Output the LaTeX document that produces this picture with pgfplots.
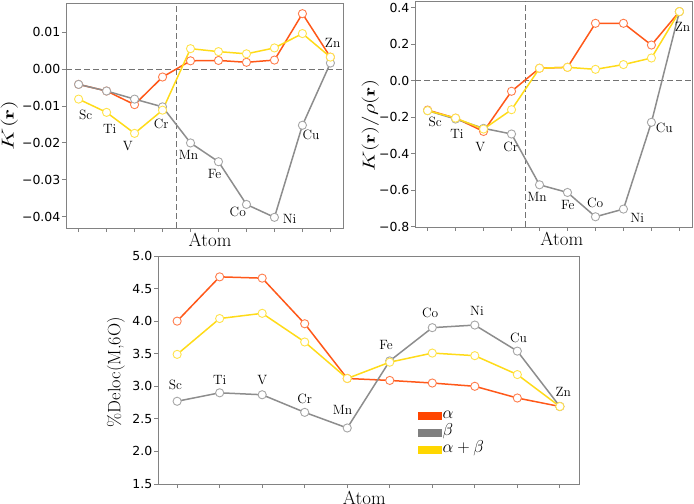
\documentclass[border=0pt]{standalone}
\usepackage{graphicx}
\usepackage{pgfplots}
\pgfplotsset{compat=1.18}
\usepackage{fontspec}
\setsansfont{DejaVu Sans}

\definecolor{cA}{RGB}{255,69,0}
\definecolor{cB}{RGB}{128,128,128}
\definecolor{cAB}{RGB}{255,215,0}
\definecolor{spine}{RGB}{130,130,130}

\tikzset{lab/.style={font=\fontsize{13.5}{15}\selectfont, inner sep=0pt}}
\pgfplotsset{
  atomaxis/.style={
    scale only axis,
    xmin=-0.45, xmax=9.45,
    xtick={0,...,9}, xticklabels={},
    tick align=outside, tick pos=left,
    major tick length=4bp,
    axis line style={spine, line width=0.9bp},
    tick style={spine, line width=0.9bp},
    yticklabel style={font=\sffamily\fontsize{12.5}{14}\selectfont, text=black, inner sep=1.5bp},
    xlabel={Atom},
    xlabel style={font=\fontsize{19}{21}\selectfont, anchor=north, inner sep=1bp},
    ylabel style={anchor=south, inner sep=0pt},
    clip=false,
  },
  ser/.style={color=#1!90!white, line width=1.5bp, mark=*, mark size=4.1bp,
    mark options={fill=white, draw=#1!70!white, line width=0.9bp}, forget plot},
  ref/.style={color=black!55, line width=1.2bp, dash pattern=on 6bp off 3bp, forget plot},
}

\begin{document}
\begin{tikzpicture}
\useasboundingbox (0,0) rectangle (694bp,-504bp);

% ---------- K(r) ----------
\begin{axis}[atomaxis,
  at={(66bp,-3bp)}, anchor=north west,
  width=277bp, height=225bp,
  ymin=-0.0431, ymax=0.018,
  ytick={-0.04,-0.03,-0.02,-0.01,0,0.01},
  yticklabels={−0.04,−0.03,−0.02,−0.01,0.00,0.01},
  xlabel style={at={(rel axis cs:0.52,0)}, yshift=-4bp},
  ylabel={\scalebox{1.43}[1]{$K(\mathbf{r})$}},
  ylabel style={font=\fontsize{16}{18}\selectfont, at={(rel axis cs:-0.173,0.456)}},
]
\addplot[ref] coordinates {(-0.45,0) (9.45,0)};
\addplot[ref] coordinates {(3.5,-0.0431) (3.5,0.018)};
\addplot[ser=cA] coordinates {(0,-0.0041)(1,-0.0059)(2,-0.0096)(3,-0.0021)(4,0.0023)(5,0.0024)(6,0.0019)(7,0.0025)(8,0.0151)(9,0.0033)};
\addplot[ser=cB] coordinates {(0,-0.0041)(1,-0.0059)(2,-0.0081)(3,-0.0102)(4,-0.0200)(5,-0.0251)(6,-0.0367)(7,-0.0402)(8,-0.0152)(9,0.0017)};
\addplot[ser=cAB] coordinates {(0,-0.0081)(1,-0.0117)(2,-0.0174)(3,-0.0111)(4,0.0056)(5,0.0048)(6,0.0042)(7,0.0058)(8,0.0097)(9,0.0033)};
\node[lab] at (axis cs:0.25,-0.0125) {Sc};
\node[lab] at (axis cs:1.11,-0.0161) {Ti};
\node[lab] at (axis cs:1.76,-0.0208) {V};
\node[lab] at (axis cs:2.95,-0.0149) {Cr};
\node[lab] at (axis cs:3.93,-0.0233) {Mn};
\node[lab] at (axis cs:4.86,-0.0283) {Fe};
\node[lab] at (axis cs:5.69,-0.0387) {Co};
\node[lab] at (axis cs:7.54,-0.0405) {Ni};
\node[lab] at (axis cs:8.31,-0.0179) {Cu};
\node[lab] at (axis cs:9.08,0.0071) {Zn};
\end{axis}

% ---------- K(r)/rho(r) ----------
\begin{axis}[atomaxis,
  at={(415bp,-1bp)}, anchor=north west,
  width=277bp, height=226bp,
  ymin=-0.801, ymax=0.436,
  ytick={-0.8,-0.6,-0.4,-0.2,0,0.2,0.4},
  yticklabels={−0.8,−0.6,−0.4,−0.2,0.0,0.2,0.4},
  xlabel style={at={(rel axis cs:0.53,0)}, yshift=-4bp},
  ylabel={\scalebox{1.31}[1]{$K(\mathbf{r})/\rho(\mathbf{r})$}},
  ylabel style={font=\fontsize{16}{18}\selectfont, at={(rel axis cs:-0.130,0.449)}},
]
\addplot[ref] coordinates {(-0.45,0) (9.45,0)};
\addplot[ref] coordinates {(3.5,-0.801) (3.5,0.436)};
\addplot[ser=cA] coordinates {(0,-0.161)(1,-0.205)(2,-0.278)(3,-0.058)(4,0.068)(5,0.073)(6,0.314)(7,0.314)(8,0.195)(9,0.378)};
\addplot[ser=cB] coordinates {(0,-0.164)(1,-0.210)(2,-0.261)(3,-0.292)(4,-0.570)(5,-0.612)(6,-0.745)(7,-0.703)(8,-0.228)(9,0.378)};
\addplot[ser=cAB] coordinates {(0,-0.164)(1,-0.205)(2,-0.265)(3,-0.159)(4,0.068)(5,0.073)(6,0.062)(7,0.088)(8,0.124)(9,0.378)};
\node[lab] at (axis cs:0.27,-0.228) {Sc};
\node[lab] at (axis cs:1.05,-0.292) {Ti};
\node[lab] at (axis cs:1.88,-0.365) {V};
\node[lab] at (axis cs:2.97,-0.365) {Cr};
\node[lab] at (axis cs:3.91,-0.639) {Mn};
\node[lab] at (axis cs:5.01,-0.679) {Fe};
\node[lab] at (axis cs:5.99,-0.670) {Co};
\node[lab] at (axis cs:7.49,-0.749) {Ni};
\node[lab] at (axis cs:8.46,-0.259) {Cu};
\node[lab] at (axis cs:9.11,0.296) {Zn};
\end{axis}

% ---------- %Deloc(M,6O) ----------
\begin{axis}[atomaxis,
  at={(158bp,-256bp)}, anchor=north west,
  width=421bp, height=228bp,
  ymin=1.5, ymax=5.0,
  ytick={1.5,2.0,...,5.0},
  yticklabels={1.5,2.0,2.5,3.0,3.5,4.0,4.5,5.0},
  xlabel style={at={(rel axis cs:0.49,0)}, yshift=-6bp},
  ylabel={\scalebox{1.02}[1]{\%Deloc(M,6O)}},
  ylabel style={font=\fontsize{18}{20}\selectfont, at={(rel axis cs:-0.078,0.49)}},
  legend style={at={(rel axis cs:0.6176,0.335)}, anchor=north west, draw=none, fill=none,
    inner sep=0pt, row sep=1bp, font=\fontsize{17.5}{19}\selectfont,
    nodes={inner sep=1bp, text height=10bp, text depth=4bp}},
  legend cell align=left,
]
\addlegendimage{legend image code/.code={\fill[cA] (0bp,-3.5bp) rectangle (23bp,3.5bp);}}
\addlegendentry{$\alpha$}
\addlegendimage{legend image code/.code={\fill[cB] (0bp,-3.5bp) rectangle (23bp,3.5bp);}}
\addlegendentry{$\beta$}
\addlegendimage{legend image code/.code={\fill[cAB] (0bp,-3.5bp) rectangle (23bp,3.5bp);}}
\addlegendentry{$\alpha+\beta$}
\addplot[ser=cA] coordinates {(0,4.00)(1,4.68)(2,4.66)(3,3.96)(4,3.12)(5,3.09)(6,3.05)(7,3.00)(8,2.82)(9,2.69)};
\addplot[ser=cB] coordinates {(0,2.77)(1,2.90)(2,2.87)(3,2.60)(4,2.36)(5,3.39)(6,3.90)(7,3.94)(8,3.54)(9,2.69)};
\addplot[ser=cAB] coordinates {(0,3.49)(1,4.04)(2,4.12)(3,3.68)(4,3.12)(5,3.37)(6,3.51)(7,3.47)(8,3.18)(9,2.69)};
\node[lab] at (axis cs:-0.04,3.02) {Sc};
\node[lab] at (axis cs:1.0,3.09) {Ti};
\node[lab] at (axis cs:2.0,3.10) {V};
\node[lab] at (axis cs:3.0,2.81) {Cr};
\node[lab] at (axis cs:3.89,2.64) {Mn};
\node[lab] at (axis cs:4.91,3.63) {Fe};
\node[lab] at (axis cs:5.95,4.12) {Co};
\node[lab] at (axis cs:7.05,4.16) {Ni};
\node[lab] at (axis cs:8.03,3.75) {Cu};
\node[lab] at (axis cs:9.08,2.92) {Zn};
\end{axis}
\end{tikzpicture}
\end{document}
